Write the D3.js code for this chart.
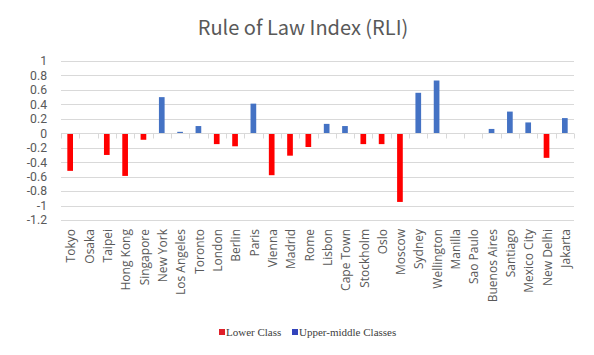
<!DOCTYPE html>
<html>
<head>
<meta charset="utf-8">
<script src="https://cdn.jsdelivr.net/npm/d3@7/dist/d3.min.js"></script>
<style>
  html, body { margin: 0; padding: 0; background: #ffffff; }
  svg { display: block; }
</style>
</head>
<body>
<svg id="chart" width="594" height="355"></svg>
<script>
const titleText = "Rule of Law Index (RLI)";
const cities = ["Tokyo","Osaka","Taipei","Hong Kong","Singapore","New York","Los Angeles","Toronto","London","Berlin","Paris","Vienna","Madrid","Rome","Lisbon","Cape Town","Stockholm","Oslo","Moscow","Sydney","Wellington","Manilla","Sao Paulo","Buenos Aires","Santiago","Mexico City","New Delhi","Jakarta"];
const lowerClass = [-0.52, null, -0.30, -0.59, -0.09, null, null, null, -0.15, -0.18, null, -0.58, -0.31, -0.19, null, null, -0.15, -0.15, -0.95, null, null, null, null, null, null, null, -0.34, null];
const upperMiddle = [null, null, null, null, null, 0.50, 0.02, 0.10, null, null, 0.41, null, null, null, 0.13, 0.10, null, null, null, 0.56, 0.73, null, null, 0.06, 0.30, 0.15, null, 0.21];
const yTicks = [1, 0.8, 0.6, 0.4, 0.2, 0, -0.2, -0.4, -0.6, -0.8, -1, -1.2];
const seriesNames = ["Lower Class", "Upper-middle Classes"];
const seriesColors = ["#FF0000", "#4472C4"];
const legendColors = ["#E0202A", "#3344BB"];

(function () {
const svg = d3.select("#chart");
const pLeft = 61, pRight = 574, pTop = 61, pBottom = 220;

const x = d3.scaleBand().domain(cities).range([pLeft, pRight]).paddingInner(0.69).paddingOuter(0.345);
const y = d3.scaleLinear().domain([-1.2, 1]).range([pBottom, pTop]);

// gridlines
svg.append("g").selectAll("line").data(yTicks).join("line")
  .attr("x1", pLeft).attr("x2", pRight)
  .attr("y1", d => Math.round(y(d)) + 0.5).attr("y2", d => Math.round(y(d)) + 0.5)
  .attr("stroke", "#d9d9d9").attr("stroke-width", 1);

// y axis labels
const yAxis = d3.axisLeft(y).tickValues(yTicks).tickSize(0).tickPadding(0).tickFormat(d => String(+d.toFixed(1)));
const ya = svg.append("g").attr("transform", `translate(${pLeft - 14},0)`).call(yAxis);
ya.select(".domain").remove();
ya.selectAll("text").attr("font-family", "Roboto, 'Open Sans', sans-serif").attr("font-size", 12.2).attr("fill", "#595959");

// bars
const series = [lowerClass, upperMiddle];
series.forEach((vals, si) => {
  svg.append("g").selectAll("rect")
    .data(cities.map((c, i) => ({c, v: vals[i]})).filter(d => d.v !== null))
    .join("rect")
    .attr("x", d => x(d.c))
    .attr("width", x.bandwidth())
    .attr("y", d => y(Math.max(0, d.v)))
    .attr("height", d => Math.abs(y(d.v) - y(0)))
    .attr("fill", seriesColors[si]);
});

// x axis line at zero
const step = x.step();
const y0 = Math.round(y(0)) + 0.5;
svg.append("line").attr("x1", pLeft).attr("x2", pRight).attr("y1", y0).attr("y2", y0)
  .attr("stroke", "#d9d9d9").attr("stroke-width", 1);
// category boundary ticks
const bounds = d3.range(cities.length + 1).map(i => pLeft + i * step);
svg.append("g").selectAll("line").data(bounds).join("line")
  .attr("x1", d => Math.round(d) + 0.5).attr("x2", d => Math.round(d) + 0.5)
  .attr("y1", y0).attr("y2", y0 + 5)
  .attr("stroke", "#d9d9d9").attr("stroke-width", 1);

// x labels
svg.append("g").selectAll("text").data(cities).join("text")
  .attr("transform", d => `translate(${x(d) + x.bandwidth() / 2 + 1},229) rotate(-90)`)
  .attr("text-anchor", "end")
  .attr("dy", "0.35em")
  .attr("font-family", "'Open Sans', sans-serif")
  .attr("font-size", 12)
  .attr("fill", "#595959")
  .text(d => d);

// title
svg.append("text").attr("x", 303).attr("y", 35).attr("text-anchor", "middle")
  .attr("font-family", "'Noto Sans CJK KR', 'Noto Sans', sans-serif")
  .attr("font-size", 20).attr("fill", "#595959").text(titleText);

// legend
const legendX = [219, 292];
const lg = svg.append("g");
seriesNames.forEach((n, i) => {
  lg.append("rect").attr("x", legendX[i]).attr("y", 329).attr("width", 6).attr("height", 6).attr("fill", legendColors[i]);
  lg.append("text").attr("x", legendX[i] + 7).attr("y", 336)
    .attr("font-family", "'Liberation Serif', serif").attr("font-size", 11)
    .attr("fill", "#404040").text(n);
});
})();
</script>
</body>
</html>
